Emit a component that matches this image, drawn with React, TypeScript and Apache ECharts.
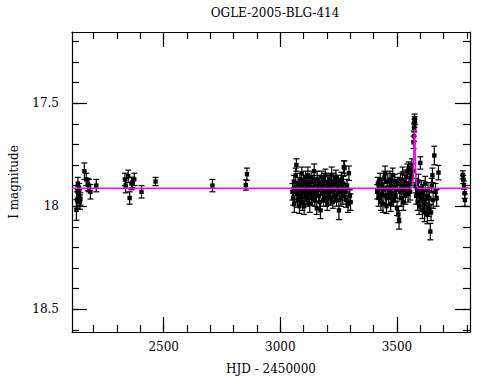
import React, { useEffect, useRef } from "react";
import * as echarts from "echarts";

// [HJD-2450000, I mag, error]
const season2001: number[][] = [
  [2126, 18.018, 0.05], [2129, 17.97, 0.04], [2131, 17.93, 0.03], [2132, 17.89, 0.03],
  [2134, 17.945, 0.04], [2136, 17.95, 0.03], [2138, 17.92, 0.03], [2141, 17.98, 0.035],
  [2143, 17.965, 0.03], [2160, 17.83, 0.04], [2168, 17.87, 0.03], [2175, 17.895, 0.03],
  [2180, 17.9, 0.03], [2186, 17.93, 0.035], [2211, 17.9, 0.03],
];
const season2002: number[][] = [
  [2334, 17.87, 0.03], [2337, 17.9, 0.035], [2348, 17.855, 0.03], [2354, 17.96, 0.03],
  [2362, 17.89, 0.03], [2366, 17.885, 0.025], [2374, 17.87, 0.03], [2405, 17.93, 0.03],
  [2465, 17.88, 0.02],
];
const season2003: number[][] = [
  [2709, 17.9, 0.03], [2852, 17.897, 0.025], [2857, 17.845, 0.03],
];
const season2004: number[][] = [
  [3052, 17.93, 0.04], [3055, 17.96, 0.035], [3058, 17.88, 0.03], [3060, 17.99, 0.04],
  [3063, 17.91, 0.03], [3066, 17.85, 0.035], [3069, 17.8, 0.03], [3071, 17.94, 0.04],
  [3074, 17.97, 0.035], [3076, 17.89, 0.03], [3079, 17.92, 0.04], [3082, 18.0, 0.035],
  [3084, 17.87, 0.03], [3087, 17.95, 0.04], [3090, 17.9, 0.035], [3092, 17.84, 0.03],
  [3095, 17.98, 0.04], [3098, 17.93, 0.035], [3100, 17.88, 0.03], [3102, 18.0, 0.04],
  [3105, 17.92, 0.035], [3108, 17.86, 0.03], [3110, 17.95, 0.04], [3113, 17.9, 0.035],
  [3116, 17.97, 0.03], [3118, 17.85, 0.04], [3121, 17.93, 0.035], [3124, 17.89, 0.03],
  [3126, 17.99, 0.04], [3129, 17.91, 0.035], [3132, 17.86, 0.03], [3134, 17.94, 0.04],
  [3137, 17.96, 0.035], [3140, 17.88, 0.03], [3142, 17.92, 0.04], [3145, 17.83, 0.035],
  [3148, 17.97, 0.03], [3150, 17.9, 0.04], [3153, 17.94, 0.035], [3156, 18.01, 0.03],
  [3158, 17.87, 0.04], [3161, 17.92, 0.035], [3164, 17.95, 0.03], [3166, 17.89, 0.04],
  [3169, 17.98, 0.035], [3172, 18.02, 0.04], [3174, 17.91, 0.035], [3177, 17.86, 0.03],
  [3180, 17.94, 0.04], [3182, 17.9, 0.035], [3185, 17.97, 0.03], [3188, 17.88, 0.04],
  [3190, 17.93, 0.035], [3193, 17.85, 0.03], [3196, 17.96, 0.04], [3198, 17.91, 0.035],
  [3201, 17.99, 0.03], [3204, 17.89, 0.04], [3206, 17.94, 0.035], [3209, 17.87, 0.03],
  [3212, 17.92, 0.04], [3214, 17.96, 0.035], [3217, 17.9, 0.03], [3220, 17.85, 0.04],
  [3222, 17.93, 0.035], [3225, 17.98, 0.03], [3228, 17.88, 0.04], [3230, 17.92, 0.035],
  [3233, 17.95, 0.03], [3236, 17.89, 0.04], [3238, 17.86, 0.035], [3241, 17.97, 0.03],
  [3244, 17.91, 0.04], [3246, 17.94, 0.035], [3249, 17.88, 0.03], [3251, 18.02, 0.045],
  [3254, 17.93, 0.035], [3257, 17.9, 0.03], [3260, 17.96, 0.04], [3262, 17.87, 0.035],
  [3265, 17.92, 0.03], [3268, 17.95, 0.04], [3270, 17.89, 0.035], [3272, 17.81, 0.03],
  [3275, 17.815, 0.035], [3278, 17.93, 0.04], [3282, 17.97, 0.035], [3286, 17.9, 0.03],
  [3290, 17.99, 0.04], [3294, 17.84, 0.035], [3298, 17.95, 0.03], [3301, 17.98, 0.04],
];
const season2005: number[][] = [
  [3415, 17.93, 0.035], [3418, 17.89, 0.03], [3421, 17.96, 0.04], [3425, 17.91, 0.035],
  [3428, 17.87, 0.03], [3431, 17.98, 0.04], [3434, 17.94, 0.035], [3437, 17.9, 0.03],
  [3440, 17.99, 0.04], [3443, 17.92, 0.035], [3446, 17.86, 0.03], [3449, 17.84, 0.035],
  [3452, 17.95, 0.04], [3455, 18.0, 0.035], [3458, 17.91, 0.03], [3461, 17.88, 0.04],
  [3464, 17.96, 0.035], [3467, 17.93, 0.03], [3470, 17.87, 0.04], [3473, 17.99, 0.035],
  [3476, 17.9, 0.03], [3479, 17.94, 0.04], [3482, 17.85, 0.035], [3485, 17.97, 0.03],
  [3488, 17.91, 0.04], [3491, 17.88, 0.035], [3494, 17.95, 0.03], [3497, 17.92, 0.04],
  [3500, 18.01, 0.035], [3503, 17.89, 0.03], [3506, 18.04, 0.04], [3509, 18.066, 0.045],
  [3512, 17.93, 0.035], [3515, 17.87, 0.03], [3518, 17.96, 0.04], [3521, 17.9, 0.035],
  [3524, 17.84, 0.03], [3527, 17.98, 0.04], [3530, 17.92, 0.035], [3533, 17.88, 0.03],
  [3536, 17.95, 0.04], [3539, 17.86, 0.035], [3542, 17.91, 0.03], [3545, 17.83, 0.035],
  [3548, 17.94, 0.04], [3550, 17.815, 0.03], [3553, 17.89, 0.035], [3556, 17.93, 0.04],
  [3559, 17.87, 0.03], [3562, 17.85, 0.035], [3564, 17.8, 0.03], [3567, 17.83, 0.035],
  [3571, 17.69, 0.03], [3573, 17.66, 0.025], [3574, 17.62, 0.02], [3575, 17.597, 0.02],
  [3575.5, 17.573, 0.02], [3576, 17.585, 0.02],
  [3580, 17.9, 0.035], [3583, 17.95, 0.04], [3586, 17.92, 0.035], [3589, 17.98, 0.04],
  [3592, 17.88, 0.035], [3595, 18.0, 0.04], [3598, 17.94, 0.035], [3600, 17.79, 0.03],
  [3603, 17.96, 0.04], [3606, 17.91, 0.035], [3609, 18.02, 0.04], [3612, 17.93, 0.035],
  [3615, 17.97, 0.04], [3618, 18.03, 0.045], [3621, 17.89, 0.035], [3624, 17.99, 0.04],
  [3627, 17.95, 0.035], [3630, 18.04, 0.045], [3633, 17.92, 0.035], [3636, 18.01, 0.04],
  [3639, 17.96, 0.035], [3643, 18.123, 0.04], [3646, 18.03, 0.04], [3649, 17.9, 0.035],
  [3652, 17.85, 0.035], [3655, 17.97, 0.04], [3660, 17.754, 0.045], [3665, 17.93, 0.04],
  [3670, 17.96, 0.04], [3678, 17.837, 0.035],
];
const season2006: number[][] = [
  [3782, 17.848, 0.02], [3784, 17.87, 0.02], [3787, 17.897, 0.02], [3790, 17.937, 0.025],
  [3791, 17.97, 0.03],
];

// model light curve (magenta)
const modelCurve: number[][] = [
  [2107, 17.913], [3560, 17.913], [3566, 17.905], [3569, 17.87], [3571, 17.8],
  [3573, 17.7], [3574.5, 17.645], [3575.5, 17.627], [3576.5, 17.645], [3578, 17.72],
  [3580, 17.82], [3582, 17.88], [3585, 17.905], [3590, 17.913], [3813, 17.913],
];

const xMajor = [2500, 3000, 3500];
const xMinor = [2200, 2300, 2400, 2500, 2600, 2700, 2800, 2900, 3000, 3100, 3200, 3300, 3400, 3500, 3600, 3700, 3800];
const yMajor = [17.5, 18, 18.5];
const yMinor = [17.2, 17.3, 17.4, 17.5, 17.6, 17.7, 17.8, 17.9, 18.0, 18.1, 18.2, 18.3, 18.4, 18.5, 18.6];

const X_MIN = 2107;
const X_MAX = 3813;
const Y_MIN = 17.155;
const Y_MAX = 18.61;

const FONT = "DejaVu Serif";

export default function App() {
  const ref = useRef<HTMLDivElement>(null);
  useEffect(() => {
    if (!ref.current) return;
    const chart = echarts.init(ref.current, undefined, { renderer: "svg" });
    const points = [...season2001, ...season2002, ...season2003, ...season2004, ...season2005, ...season2006];

    const baseX = (pos: string, ticks: number[], len: number, labels: boolean, line: boolean) => ({
      type: "value",
      position: pos,
      min: X_MIN,
      max: X_MAX,
      gridIndex: 0,
      axisLine: { show: line, lineStyle: { color: "#000", width: 1.2 } },
      axisTick: { show: true, inside: true, length: len, customValues: ticks, lineStyle: { color: "#000", width: 1.2 } },
      axisLabel: labels
        ? { show: true, customValues: xMajor, formatter: (v: number) => String(v), color: "#000", fontFamily: FONT, fontSize: 12, margin: 9 }
        : { show: false },
      splitLine: { show: false },
    });
    const baseY = (pos: string, ticks: number[], len: number, labels: boolean, line: boolean) => ({
      type: "value",
      position: pos,
      min: Y_MIN,
      max: Y_MAX,
      inverse: true,
      gridIndex: 0,
      axisLine: { show: line, lineStyle: { color: "#000", width: 1.2 } },
      axisTick: { show: true, inside: true, length: len, customValues: ticks, lineStyle: { color: "#000", width: 1.2 } },
      axisLabel: labels
        ? { show: true, customValues: yMajor, formatter: (v: number) => String(v), color: "#000", fontFamily: FONT, fontSize: 12, margin: 13 }
        : { show: false },
      splitLine: { show: false },
    });

    const xAxes: any[] = [
      { ...baseX("bottom", xMajor, 15, true, true), name: "HJD - 2450000", nameLocation: "middle", nameGap: 31, nameTextStyle: { color: "#000", fontFamily: FONT, fontSize: 12 } },
      baseX("bottom", xMinor, 7, false, false),
      baseX("top", xMajor, 15, false, true),
      baseX("top", xMinor, 7, false, false),
    ];
    const yAxes: any[] = [
      { ...baseY("left", yMajor, 15, true, true), name: "I magnitude", nameLocation: "middle", nameGap: 52, nameRotate: 90, nameTextStyle: { color: "#000", fontFamily: FONT, fontSize: 12 } },
      baseY("left", yMinor, 7, false, false),
      baseY("right", yMajor, 15, false, true),
      baseY("right", yMinor, 7, false, false),
    ];

    chart.setOption({
      animation: false,
      backgroundColor: "#fff",
      title: {
        text: "OGLE-2005-BLG-414",
        left: 270,
        top: 2,
        textAlign: "center",
        textStyle: { color: "#000", fontFamily: FONT, fontSize: 12, fontWeight: "normal" },
      },
      grid: { left: 70, right: 20, top: 32, bottom: 48, containLabel: false },
      xAxis: xAxes,
      yAxis: yAxes,
      series: [
        {
          type: "custom",
          xAxisIndex: 0,
          yAxisIndex: 0,
          data: points,
          clip: true,
          renderItem: (params: any, api: any) => {
            const x = api.value(0);
            const y = api.value(1);
            const e = api.value(2);
            const c = api.coord([x, y]);
            const hi = api.coord([x, y - e]);
            const lo = api.coord([x, y + e]);
            const stroke = { stroke: "#000", lineWidth: 1.2 };
            return {
              type: "group",
              children: [
                { type: "line", shape: { x1: c[0], y1: hi[1], x2: c[0], y2: lo[1] }, style: stroke },
                { type: "line", shape: { x1: c[0] - 3, y1: hi[1], x2: c[0] + 3, y2: hi[1] }, style: stroke },
                { type: "line", shape: { x1: c[0] - 3, y1: lo[1], x2: c[0] + 3, y2: lo[1] }, style: stroke },
                { type: "rect", shape: { x: c[0] - 2.2, y: c[1] - 2.2, width: 4.4, height: 4.4 }, style: { fill: "#000" } },
              ],
            };
          },
          z: 2,
        },
        {
          type: "line",
          xAxisIndex: 0,
          yAxisIndex: 0,
          data: modelCurve,
          showSymbol: false,
          symbol: "none",
          smooth: false,
          lineStyle: { color: "#ff00ff", width: 1.5 },
          z: 5,
        },
      ],
    });
    return () => chart.dispose();
  }, []);
  return <div ref={ref} style={{ position: "absolute", left: 0, top: 0, width: 490, height: 380 }} />;
}
